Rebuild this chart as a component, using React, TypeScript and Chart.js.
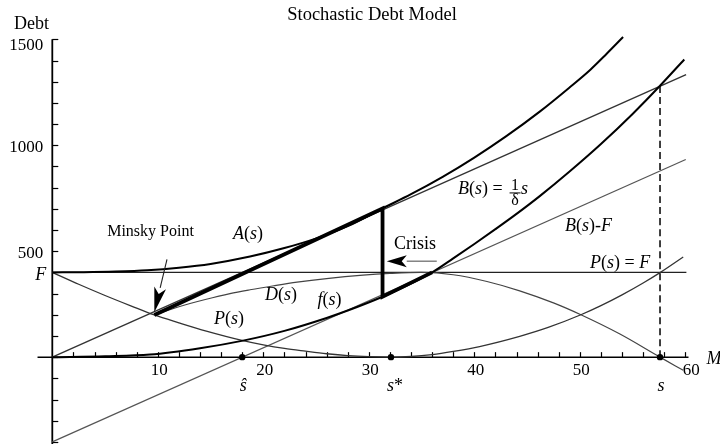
import React, { useEffect, useRef } from "react";
import { Chart, registerables } from "chart.js";

Chart.register(...registerables);

// ---------------- data (s on x, Debt on y) ----------------
const X_MIN = 0;
const X_MAX = 60.3;
const Y_MIN = -410;
const Y_MAX = 1500;
const X_AXIS_START = -1.4;

const fixedS = [0, 60.1];
const fixedDebt = [400, 400];

const bS = [0, 60.07];
const bDebt = [0, 1333];

const bfS = [0, 60.04];
const bfDebt = [-400, 933];

const aS = [0, 3, 6, 9, 12, 15, 18.74, 22, 25.1, 28, 31.3, 34, 37, 40, 43, 46.2, 49, 51, 52.5, 54.1];
const aDebt = [400, 401, 404, 410, 422, 440, 475, 515, 562, 618, 702, 769, 851, 942, 1042, 1159, 1272, 1357, 1430, 1511];

const fS = [0, 5, 9.26, 14, 18.08, 22, 26, 28, 31.3, 33.5, 36, 38, 40, 42, 44, 46.2, 49, 52, 55, 57.6, 59.9];
const fDebt = [0, 4, 12, 42, 78, 124, 185, 220, 285, 335, 400, 466, 534, 604, 676, 760, 875, 1006, 1148, 1281, 1405];

const pS = [0, 2.5, 5, 7.5, 9.67, 12, 14.6, 18.08, 20, 22, 24, 26, 28, 30, 32.1, 34, 36, 38, 40.5, 44.3, 47, 50.1, 52, 54, 56, 57.6, 59.8];
const pDebt = [400, 344, 291, 241, 199, 162, 123, 78, 58, 41, 28, 16, 7, 2, 0, 3, 12, 27, 50, 98, 140, 200, 243, 294, 350, 399, 473];

const dS = [9.67, 12, 14.5, 16.84, 18.74, 21, 23.2, 26, 29.45, 32, 35, 38, 41.2, 44.3, 47.5, 50.1, 53.8, 57.6, 59.8];
const dDebt = [199, 238, 272, 300, 318, 337, 354, 371, 387, 395, 400, 389, 357, 313, 256, 200, 109, 0, -62];

const crisisS = [9.67, 31.3, 31.3, 36];
const crisisDebt = [199, 702, 285, 400];

const sBarS = [57.6, 57.6];
const sBarDebt = [0, 1281];

const markS = [18.0, 32.1, 57.6];
const markDebt = [0, 0, 0];
const markLabels = ["ŝ", "s*", "s"];

const xTickLabels = [10, 20, 30, 40, 50, 60];
const yTickValues = [400, 500, 1000, 1500];
const yTickLabels = ["F", "500", "1000", "1500"];

// ---------------- annotation placement ----------------
const SERIF = "'Liberation Serif', 'DejaVu Serif', 'Times New Roman', serif";

const textLabels = [
  { text: "Minsky Point", s: 9.31, debt: 570, align: "center", size: 16, math: false },
  { text: "A(s)", s: 18.55, debt: 559, align: "center", size: 18, math: true },
  { text: "D(s)", s: 21.68, debt: 269, align: "center", size: 18, math: true },
  { text: "f(s)", s: 26.27, debt: 245, align: "center", size: 18, math: true },
  { text: "P(s)", s: 16.75, debt: 156, align: "center", size: 18, math: true },
  { text: "B(s)-F", s: 48.6, debt: 597, align: "left", size: 18, math: true },
  { text: "P(s) = F", s: 50.97, debt: 423, align: "left", size: 18, math: true },
  { text: "Crisis", s: 32.39, debt: 512, align: "left", size: 18, math: false },
];
const bLabel = { s: 38.46, debt: 768 };
const crisisArrow = { fromS: 36.44, toS: 31.7, debt: 453 };
const minskyArrow = { fromS: 10.87, fromDebt: 461, toS: 9.67, toDebt: 212 };

const pts = (xs: number[], ys: number[]) => xs.map((x, i) => ({ x, y: ys[i] }));

function drawMath(
  ctx: CanvasRenderingContext2D,
  text: string,
  x: number,
  y: number,
  size: number,
  align: string,
  math: boolean
) {
  const chars = Array.from(text);
  const fonts = chars.map((c) =>
    `${math && /[A-Za-zŝ]/.test(c) ? "italic " : ""}${size}px ${SERIF}`
  );
  let total = 0;
  const widths = chars.map((c, i) => {
    ctx.font = fonts[i];
    const w = ctx.measureText(c).width;
    total += w;
    return w;
  });
  let cx = align === "center" ? x - total / 2 : align === "right" ? x - total : x;
  ctx.textAlign = "left";
  ctx.textBaseline = "alphabetic";
  chars.forEach((c, i) => {
    ctx.font = fonts[i];
    ctx.fillText(c, cx, y);
    cx += widths[i];
  });
  return total;
}

function arrow(
  ctx: CanvasRenderingContext2D,
  x1: number,
  y1: number,
  x2: number,
  y2: number,
  headLen: number,
  halfW: number,
  shaftColor: string
) {
  const ang = Math.atan2(y2 - y1, x2 - x1);
  const bx = x2 - headLen * Math.cos(ang);
  const by = y2 - headLen * Math.sin(ang);
  ctx.strokeStyle = shaftColor;
  ctx.lineWidth = 1.1;
  ctx.beginPath();
  ctx.moveTo(x1, y1);
  ctx.lineTo(bx, by);
  ctx.stroke();
  const nx = -Math.sin(ang);
  const ny = Math.cos(ang);
  ctx.fillStyle = "#000";
  ctx.beginPath();
  ctx.moveTo(x2, y2);
  ctx.lineTo(bx + nx * halfW, by + ny * halfW);
  ctx.lineTo(bx + 0.25 * headLen * Math.cos(ang), by + 0.25 * headLen * Math.sin(ang));
  ctx.lineTo(bx - nx * halfW, by - ny * halfW);
  ctx.closePath();
  ctx.fill();
}

const axesPlugin = {
  id: "mathAxes",
  beforeDatasetsDraw(chart: any) {
    const { ctx } = chart;
    const x = chart.scales.x;
    const y = chart.scales.y;
    const x0 = x.getPixelForValue(0);
    const y0 = y.getPixelForValue(0);
    ctx.save();
    ctx.strokeStyle = "#000";
    ctx.lineCap = "butt";
    ctx.lineWidth = 1.8;
    ctx.beginPath();
    ctx.moveTo(x0, y.getPixelForValue(Y_MIN));
    ctx.lineTo(x0, y.getPixelForValue(Y_MAX));
    ctx.stroke();
    ctx.lineWidth = 1.5;
    ctx.beginPath();
    ctx.moveTo(x.getPixelForValue(X_AXIS_START), y0);
    ctx.lineTo(x.getPixelForValue(X_MAX), y0);
    ctx.stroke();
    ctx.lineWidth = 1.2;
    for (let v = -400; v <= 1500; v += 100) {
      const py = Math.round(y.getPixelForValue(v)) + 0.5;
      ctx.beginPath();
      ctx.moveTo(x0, py);
      ctx.lineTo(x0 + 6, py);
      ctx.stroke();
    }
    for (let s = 2; s <= 60; s += 2) {
      const px = Math.round(x.getPixelForValue(s)) + 0.5;
      ctx.beginPath();
      ctx.moveTo(px, y0);
      ctx.lineTo(px, y0 - 5);
      ctx.stroke();
    }
    ctx.restore();
  },
  afterDatasetsDraw(chart: any) {
    const { ctx } = chart;
    const x = chart.scales.x;
    const y = chart.scales.y;
    const x0 = x.getPixelForValue(0);
    const y0 = y.getPixelForValue(0);
    ctx.save();
    ctx.fillStyle = "#000";

    ctx.font = `18.5px ${SERIF}`;
    ctx.textAlign = "center";
    ctx.textBaseline = "alphabetic";
    ctx.fillText("Stochastic Debt Model", 372, 20);
    ctx.textAlign = "left";
    ctx.font = `18px ${SERIF}`;
    ctx.fillText("Debt", 14, 29);
    drawMath(ctx, "M", x.getPixelForValue(X_MAX) + 18, y0 + 7, 18, "left", true);

    xTickLabels.forEach((v, i) => {
      const off = i === xTickLabels.length - 1 ? 6 : 1.5;
      drawMath(ctx, String(v), x.getPixelForValue(v) + off, y0 + 18, 17, "center", false);
    });
    yTickValues.forEach((v, i) => {
      const lab = yTickLabels[i];
      const py = y.getPixelForValue(v);
      const dy = lab === "F" ? 7.5 : v === Y_MAX ? 10.5 : 6.5;
      drawMath(ctx, lab, x0 - (lab === "F" ? 6 : 9), py + dy, lab === "F" ? 18 : 17, "right", lab === "F");
    });

    markS.forEach((s, i) => {
      const lab = markLabels[i];
      const px = x.getPixelForValue(s) + (lab === "s*" ? 4 : 1);
      drawMath(ctx, lab, px, y0 + 34, 18, "center", true);
    });

    textLabels.forEach((l) => {
      drawMath(ctx, l.text, x.getPixelForValue(l.s), y.getPixelForValue(l.debt), l.size, l.align, l.math);
    });

    // B(s) = (1/δ) s
    const bx = x.getPixelForValue(bLabel.s);
    const by = y.getPixelForValue(bLabel.debt);
    drawMath(ctx, "B(s) =", bx, by, 18, "left", true);
    const fcx = bx + 57;
    drawMath(ctx, "1", fcx, by - 4, 16, "center", false);
    ctx.strokeStyle = "#000";
    ctx.lineWidth = 1;
    ctx.beginPath();
    ctx.moveTo(fcx - 5.5, by - 1.5);
    ctx.lineTo(fcx + 5.5, by - 1.5);
    ctx.stroke();
    drawMath(ctx, "δ", fcx, by + 11, 16, "center", false);
    drawMath(ctx, "s", fcx + 6, by, 18, "left", true);

    const cy = y.getPixelForValue(crisisArrow.debt);
    arrow(ctx, x.getPixelForValue(crisisArrow.fromS), cy, x.getPixelForValue(crisisArrow.toS), cy, 20, 6, "#555");
    arrow(
      ctx,
      x.getPixelForValue(minskyArrow.fromS),
      y.getPixelForValue(minskyArrow.fromDebt),
      x.getPixelForValue(minskyArrow.toS),
      y.getPixelForValue(minskyArrow.toDebt),
      25,
      6,
      "#222"
    );
    ctx.restore();
  },
};

export default function App() {
  const ref = useRef<HTMLCanvasElement | null>(null);

  useEffect(() => {
    if (!ref.current) return;
    const line = (data: any, color: string, width: number, extra: any = {}) => ({
      data,
      showLine: true,
      borderColor: color,
      borderWidth: width,
      pointRadius: 0,
      fill: false,
      clip: false,
      cubicInterpolationMode: "monotone",
      ...extra,
    });
    const chart = new Chart(ref.current, {
      type: "scatter",
      data: {
        datasets: [
          {
            data: pts(markS, markDebt),
            showLine: false,
            pointRadius: 3.2,
            pointBackgroundColor: "#000",
            pointBorderWidth: 0,
            clip: false,
          },
          line(pts(crisisS, crisisDebt), "#000", 3.8, { cubicInterpolationMode: "default", tension: 0, borderJoinStyle: "miter" }),
          line(pts(aS, aDebt), "#000", 2),
          line(pts(fS, fDebt), "#000", 2),
          line(pts(sBarS, sBarDebt), "#000", 1.5, { borderDash: [7, 4] }),
          line(pts(bS, bDebt), "#333", 1.4, { tension: 0, cubicInterpolationMode: "default" }),
          line(pts(pS, pDebt), "#333", 1.3),
          line(pts(dS, dDebt), "#444", 1.2),
          line(pts(bfS, bfDebt), "#555", 1.2, { tension: 0, cubicInterpolationMode: "default" }),
          line(pts(fixedS, fixedDebt), "#222", 1.1, { tension: 0, cubicInterpolationMode: "default" }),
        ] as any,
      },
      options: {
        responsive: false,
        animation: false,
        devicePixelRatio: 1,
        events: [],
        layout: { padding: { left: 52.3, right: 31.5, top: 39.35, bottom: 1.2 } },
        plugins: {
          legend: { display: false },
          tooltip: { enabled: false },
          title: { display: false },
        },
        scales: {
          x: { type: "linear", min: X_MIN, max: X_MAX, display: false },
          y: { type: "linear", min: Y_MIN, max: Y_MAX, display: false },
        },
      } as any,
      plugins: [axesPlugin as any],
    });
    return () => chart.destroy();
  }, []);

  return (
    <canvas
      ref={ref}
      width={720}
      height={448}
      style={{ position: "absolute", left: 0, top: 0, width: 720, height: 448, display: "block", background: "#fff" }}
    />
  );
}
